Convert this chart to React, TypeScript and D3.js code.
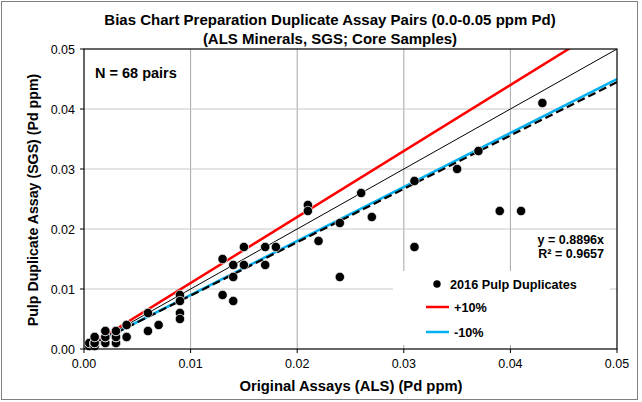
import React from 'react';
import * as d3 from 'd3';

// Original assays (ALS) Pd ppm
const alsValues = [
  0.0005, 0.0005, 0.0005, 0.0005, 0.0005, 0.0005, 0.0005,
  0.001, 0.001, 0.001, 0.001, 0.001, 0.001, 0.001, 0.001,
  0.002, 0.002, 0.002, 0.002, 0.002, 0.002, 0.002, 0.002, 0.002,
  0.003, 0.003, 0.003, 0.003, 0.003, 0.003, 0.003, 0.003, 0.003,
  0.004, 0.004, 0.004, 0.004,
  0.006, 0.006, 0.007, 0.009, 0.009, 0.009, 0.009,
  0.013, 0.015, 0.014, 0.015, 0.014, 0.013, 0.014,
  0.017, 0.018, 0.017,
  0.021, 0.021, 0.024, 0.022, 0.024,
  0.026, 0.027, 0.031, 0.031, 0.035, 0.037, 0.043, 0.039, 0.041,
];
// Pulp duplicate assays (SGS) Pd ppm
const sgsValues = [
  0.0005, 0.0005, 0.0005, 0.0005, 0.0005, 0.001, 0.001,
  0.0005, 0.0005, 0.001, 0.001, 0.001, 0.001, 0.002, 0.002,
  0.001, 0.001, 0.001, 0.002, 0.002, 0.002, 0.002, 0.003, 0.003,
  0.001, 0.001, 0.001, 0.002, 0.002, 0.002, 0.002, 0.003, 0.003,
  0.004, 0.004, 0.002, 0.002,
  0.006, 0.003, 0.004, 0.009, 0.008, 0.006, 0.005,
  0.015, 0.017, 0.014, 0.014, 0.012, 0.009, 0.008,
  0.017, 0.017, 0.014,
  0.024, 0.023, 0.021, 0.018, 0.012,
  0.026, 0.022, 0.028, 0.017, 0.030, 0.033, 0.041, 0.023, 0.023,
];

const xTicks = [0, 0.01, 0.02, 0.03, 0.04, 0.05];
const yTicks = [0, 0.01, 0.02, 0.03, 0.04, 0.05];
const trendSlope = 0.8896;
const rSquared = 0.9657;
const plusFactor = 1.1;
const minusFactor = 0.9;

const W = 642;
const H = 402;
const M = { left: 84, right: 617, top: 49, bottom: 349 };
const FONT = '"Liberation Sans", Arial, sans-serif';

export default function App() {
  const x = d3.scaleLinear().domain([0, 0.05]).range([M.left, M.right]);
  const y = d3.scaleLinear().domain([0, 0.05]).range([M.bottom, M.top]);
  const lineGen = (k: number) =>
    d3.line<number>().x((v) => x(v)).y((v) => y(k * v))([0, 0.05]) as string;

  const points = alsValues.map((v, i) => [v, sgsValues[i]]);

  return (
    <div style={{ position: 'fixed', left: 0, top: 0 }}>
      <svg width={W} height={H} style={{ display: 'block', background: '#fff' }} fontFamily={FONT}>
        <defs>
          <clipPath id="plotclip">
            <rect x={M.left} y={M.top} width={M.right - M.left} height={M.bottom - M.top} />
          </clipPath>
        </defs>
        <rect x={1.5} y={1.5} width={636} height={398} fill="#fff" stroke="#808080" strokeWidth={1} />

        {/* grid */}
        {xTicks.slice(1, -1).map((t) => (
          <line key={'gx' + t} x1={x(t)} x2={x(t)} y1={M.top} y2={M.bottom} stroke="#a6a6a6" strokeWidth={1} />
        ))}
        {yTicks.slice(1, -1).map((t) => (
          <line key={'gy' + t} x1={M.left} x2={M.right} y1={y(t)} y2={y(t)} stroke="#c8c8c8" strokeWidth={1} />
        ))}

        {/* legend & equation white boxes */}
        <rect x={393} y={271} width={217} height={74} fill="#fff" />
        <rect x={532} y={231} width={78} height={30} fill="#fff" />

        {/* lines */}
        <g clipPath="url(#plotclip)" fill="none">
          <path d={lineGen(plusFactor)} stroke="#ff0000" strokeWidth={2.5} />
          <path d={lineGen(1)} stroke="#000" strokeWidth={1} />
          <path d={lineGen(minusFactor)} stroke="#00b0f0" strokeWidth={2.5} />
          <path d={lineGen(trendSlope)} stroke="#000" strokeWidth={2.2} strokeDasharray="8,4" />
        </g>

        {/* points */}
        <g>
          {points.map((p, i) => (
            <circle key={i} cx={x(p[0])} cy={y(p[1])} r={4.7} fill="#000" stroke="#fff" strokeWidth={0.7} />
          ))}
        </g>

        {/* plot border */}
        <rect x={M.left} y={M.top} width={M.right - M.left} height={M.bottom - M.top} fill="none" stroke="#000" strokeWidth={1.2} />

        {/* ticks */}
        {xTicks.map((t) => (
          <g key={'xt' + t}>
            <line x1={x(t)} x2={x(t)} y1={M.bottom} y2={M.bottom + 4} stroke="#000" />
            <text x={x(t)} y={M.bottom + 19} textAnchor="middle" fontSize={12.5} fill="#000">{t.toFixed(2)}</text>
          </g>
        ))}
        {yTicks.map((t) => (
          <g key={'yt' + t}>
            <line x1={M.left - 4} x2={M.left} y1={y(t)} y2={y(t)} stroke="#000" />
            <text x={M.left - 9} y={y(t) + 4.5} textAnchor="end" fontSize={12.5} fill="#000">{t.toFixed(2)}</text>
          </g>
        ))}

        {/* titles */}
        <text x={330} y={25} textAnchor="middle" fontSize={15} fontWeight="bold">
          Bias Chart Preparation Duplicate Assay Pairs (0.0-0.05 ppm Pd)
        </text>
        <text x={330} y={44} textAnchor="middle" fontSize={15} fontWeight="bold">
          (ALS Minerals, SGS; Core Samples)
        </text>
        <text x={351} y={391} textAnchor="middle" fontSize={14.8} fontWeight="bold">
          Original Assays (ALS) (Pd ppm)
        </text>
        <text transform="translate(38,200) rotate(-90)" textAnchor="middle" fontSize={14.2} fontWeight="bold">
          Pulp Duplicate Assay (SGS) (Pd ppm)
        </text>
        <text x={95} y={78} fontSize={14.5} fontWeight="bold">N = 68 pairs</text>

        {/* equation */}
        <text x={604} y={244} textAnchor="end" fontSize={12.5} fontWeight="bold">y = {trendSlope}x</text>
        <text x={604} y={258} textAnchor="end" fontSize={12.5} fontWeight="bold">R² = {rSquared}</text>

        {/* legend */}
        <circle cx={437} cy={284} r={3.7} fill="#000" />
        <text x={450} y={288.5} fontSize={12.7} fontWeight="bold">2016 Pulp Duplicates</text>
        <line x1={426} x2={449} y1={307} y2={307} stroke="#ff0000" strokeWidth={2.5} />
        <text x={454} y={311.5} fontSize={12.7} fontWeight="bold">+10%</text>
        <line x1={426} x2={449} y1={332} y2={332} stroke="#00b0f0" strokeWidth={2.5} />
        <text x={454} y={336.5} fontSize={12.7} fontWeight="bold">-10%</text>
      </svg>
    </div>
  );
}
